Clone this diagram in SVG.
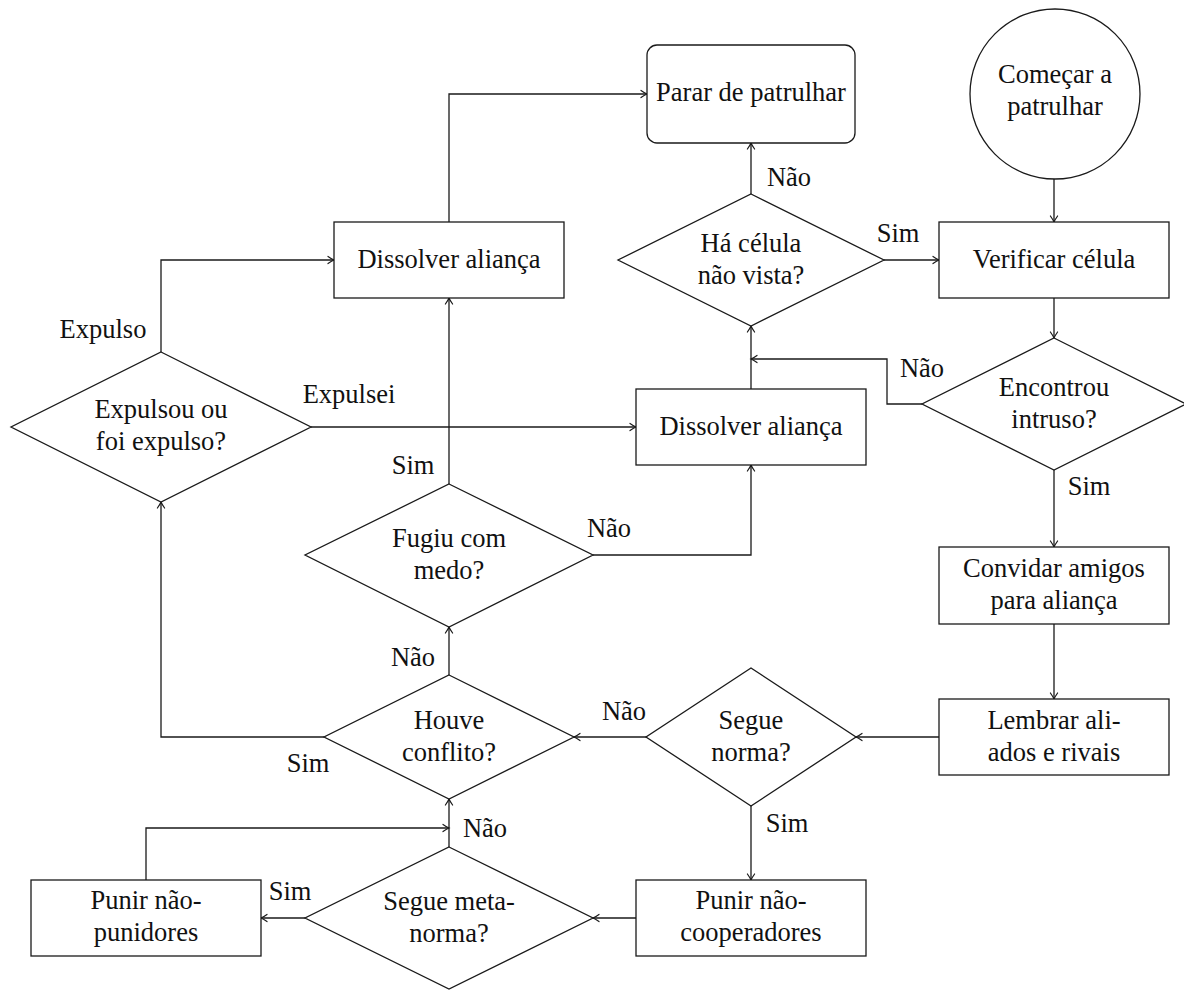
<svg xmlns="http://www.w3.org/2000/svg" width="1184" height="990" viewBox="0 0 1184 990">
<defs>
<style>
.n{fill:#fff;stroke:#1a1a1a;stroke-width:1.3}
.c path{fill:none;stroke:#1a1a1a;stroke-width:1.3;marker-end:url(#ah)}
text{font-family:'Liberation Serif','Times New Roman',serif;font-size:26.5px;fill:#111;text-anchor:middle}
</style>
<marker id="ah" viewBox="-8 -5 10 10" refX="0" refY="0" markerWidth="10" markerHeight="10" markerUnits="userSpaceOnUse" orient="auto">
<path d="M-6,-3.6 Q-2,-0.8 0,0 Q-2,0.8 -6,3.6" fill="none" stroke="#1a1a1a" stroke-width="1.2" stroke-linecap="round"/>
</marker>
</defs>
<rect width="1184" height="990" fill="#fff"/>

<g id="connectors" class="c">
<path d="M1054 179 V222"/>
<path d="M751 194 V143"/>
<path d="M884 260 H939"/>
<path d="M1054 298 V338"/>
<path d="M922 404 H887 V359 H751"/>
<path d="M751 389 V326"/>
<path d="M1054 470 V547"/>
<path d="M1054 624 V699"/>
<path d="M939 737 H856"/>
<path d="M646 737 H574"/>
<path d="M751 806 V880"/>
<path d="M636 918 H593"/>
<path d="M305 918 H261"/>
<path d="M146 880 V828 H449"/>
<path d="M449 847 V799"/>
<path d="M324 737 H161 V502"/>
<path d="M449 675 V627"/>
<path d="M593 555 H751 V465"/>
<path d="M449 484 V298"/>
<path d="M449 222 V94 H647"/>
<path d="M311 427 H636"/>
<path d="M161 352 V260 H334"/>
</g>

<g id="labels">
<text x="789" y="186">Não</text>
<text x="898" y="242">Sim</text>
<text x="922" y="377">Não</text>
<text x="1089" y="495">Sim</text>
<text x="624" y="720">Não</text>
<text x="787" y="832">Sim</text>
<text x="290" y="900">Sim</text>
<text x="485" y="837">Não</text>
<text x="308" y="772">Sim</text>
<text x="413" y="666">Não</text>
<text x="609" y="537">Não</text>
<text x="413" y="474">Sim</text>
<text x="349" y="403">Expulsei</text>
<text x="103" y="338">Expulso</text>
</g>

<g id="start">
<circle class="n" cx="1055" cy="94" r="85"/>
<text x="1055" y="83">Começar a</text>
<text x="1055" y="115">patrulhar</text>
</g>

<g id="parar">
<rect class="n" x="647" y="45" width="208" height="98" rx="10"/>
<text x="751" y="101">Parar de patrulhar</text>
</g>

<g id="verificar">
<rect class="n" x="939" y="222" width="230" height="76"/>
<text x="1054" y="268">Verificar célula</text>
</g>

<g id="ha-celula">
<polygon class="n" points="751,194 884,260 751,326 618,260"/>
<text x="751" y="252">Há célula</text>
<text x="751" y="284">não vista?</text>
</g>

<g id="encontrou">
<polygon class="n" points="1054,338 1186,404 1054,470 922,404"/>
<text x="1054" y="396">Encontrou</text>
<text x="1054" y="428">intruso?</text>
</g>

<g id="dissolver-r">
<rect class="n" x="636" y="389" width="230" height="76"/>
<text x="751" y="435">Dissolver aliança</text>
</g>

<g id="dissolver-l">
<rect class="n" x="334" y="222" width="230" height="76"/>
<text x="449" y="268">Dissolver aliança</text>
</g>

<g id="expulsou">
<polygon class="n" points="161,352 311,427 161,502 11,427"/>
<text x="161" y="418">Expulsou ou</text>
<text x="161" y="450">foi expulso?</text>
</g>

<g id="fugiu">
<polygon class="n" points="449,484 593,555 449,627 305,555"/>
<text x="449" y="547">Fugiu com</text>
<text x="449" y="579">medo?</text>
</g>

<g id="convidar">
<rect class="n" x="939" y="547" width="230" height="77"/>
<text x="1054" y="577">Convidar amigos</text>
<text x="1054" y="609">para aliança</text>
</g>

<g id="lembrar">
<rect class="n" x="939" y="699" width="230" height="76"/>
<text x="1054" y="729">Lembrar ali-</text>
<text x="1054" y="761">ados e rivais</text>
</g>

<g id="segue-norma">
<polygon class="n" points="751,668 856,737 751,806 646,737"/>
<text x="751" y="729">Segue</text>
<text x="751" y="761">norma?</text>
</g>

<g id="houve">
<polygon class="n" points="449,675 574,737 449,799 324,737"/>
<text x="449" y="729">Houve</text>
<text x="449" y="761">conflito?</text>
</g>

<g id="punir-coop">
<rect class="n" x="636" y="880" width="230" height="76"/>
<text x="751" y="909">Punir não-</text>
<text x="751" y="941">cooperadores</text>
</g>

<g id="meta-norma">
<polygon class="n" points="449,847 593,918 449,989 305,918"/>
<text x="449" y="910">Segue meta-</text>
<text x="449" y="942">norma?</text>
</g>

<g id="punir-pun">
<rect class="n" x="31" y="880" width="230" height="76"/>
<text x="146" y="909">Punir não-</text>
<text x="146" y="941">punidores</text>
</g>
</svg>
